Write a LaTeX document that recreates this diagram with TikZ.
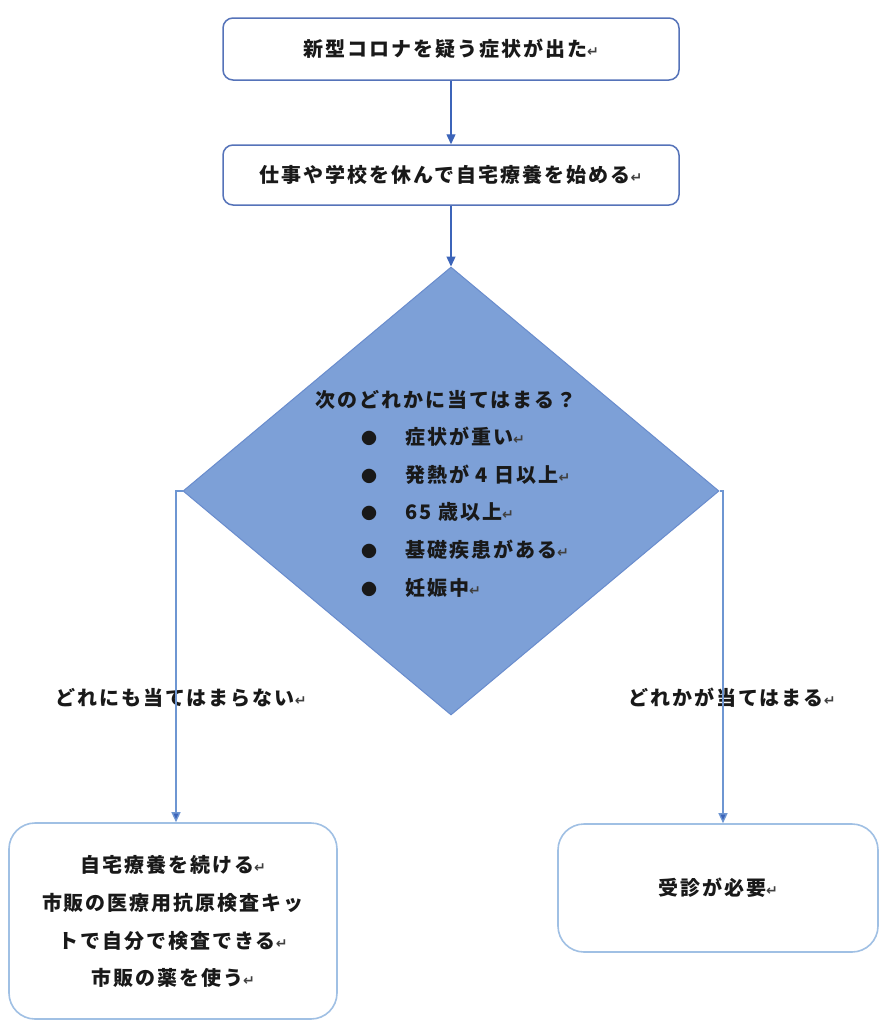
\documentclass[tikz,border=0pt]{standalone}
\usepackage{fontspec}
\usetikzlibrary{shapes.geometric,arrows.meta}
\setmainfont[LetterSpace=10]{Noto Sans CJK JP}
\newfontfamily\symfont{DejaVu Sans}
\newcommand\retmark{{\symfont\fontsize{14pt}{14pt}\selectfont\color{black!75}↵}}
\newcommand\bul{\makebox[20pt]{\fontsize{16pt}{16pt}\selectfont ●}\hspace{26pt}}
\definecolor{diafill}{RGB}{125,160,215}
\definecolor{diaedge}{RGB}{105,140,205}
\definecolor{topedge}{RGB}{85,115,185}
\definecolor{arrcol}{RGB}{60,100,185}
\definecolor{sidecol}{RGB}{110,150,210}
\definecolor{botedge}{RGB}{160,192,228}
\definecolor{ink}{RGB}{25,25,25}
\begin{document}
\begin{tikzpicture}[x=1pt,y=-1pt,
  txt/.style={font=\fontsize{20pt}{37.7pt}\selectfont\bfseries, text=ink, inner sep=0pt},
  topbox/.style={txt, draw=topedge, line width=1.5pt, rounded corners=10pt, minimum width=456pt, minimum height=62pt, fill=white},
  botbox/.style={txt, draw=botedge, line width=1.6pt, rounded corners=26pt, fill=white, align=center},
  dia/.style={diamond, draw=diaedge, fill=diafill, line width=1pt, minimum width=536pt, minimum height=448pt, inner sep=0pt},
  arr/.style={draw=arrcol, line width=1.3pt, -{Triangle[width=9pt,length=10pt]}},
  side/.style={draw=sidecol, line width=1.3pt, -{Triangle[width=9pt,length=10pt,fill=arrcol]}}]
\useasboundingbox (0,0) rectangle (881,1021);
\fill[white] (0,0) rectangle (881,1021);
% main nodes
\node[topbox] (b1) at (451,49) {新型コロナを疑う症状が出た\retmark};
\node[topbox, minimum height=60pt] (b2) at (451,175) {仕事や学校を休んで自宅療養を始める\retmark};
\node[dia] (d) at (451,491) {};
\node[txt] (dt) at (446,400) {次のどれかに当てはまる？};
\node[txt, anchor=west, align=left] (dl) at (359,512) {\bul 症状が重い\retmark\\\bul 発熱が 4 日以上\retmark\\\bul 65 歳以上\retmark\\\bul 基礎疾患がある\retmark\\\bul 妊娠中\retmark};
% branch labels
\node[txt] (l1) at (181,698) {どれにも当てはまらない\retmark};
\node[txt] (l2) at (732,698) {どれかが当てはまる\retmark};
% bottom boxes
\node[botbox, minimum width=328pt, minimum height=196pt] (lb) at (173,921) {\raisebox{-6pt}[0pt][0pt]{\parbox{320pt}{\centering 自宅療養を続ける\retmark\\市販の医療用抗原検査キッ\\トで自分で検査できる\retmark\\市販の薬を使う\retmark}}};
\node[botbox, minimum width=320pt, minimum height=128pt] (rb) at (718,888) {受診が必要\retmark};
% connectors
\draw[arr] (b1) -- (b2);
\draw[arr] (b2) -- (d.north);
\draw[side] (d.west) -| ([xshift=3pt]lb.north);
\draw[side] (d.east) -| ([xshift=5pt]rb.north);
\end{tikzpicture}
\end{document}
